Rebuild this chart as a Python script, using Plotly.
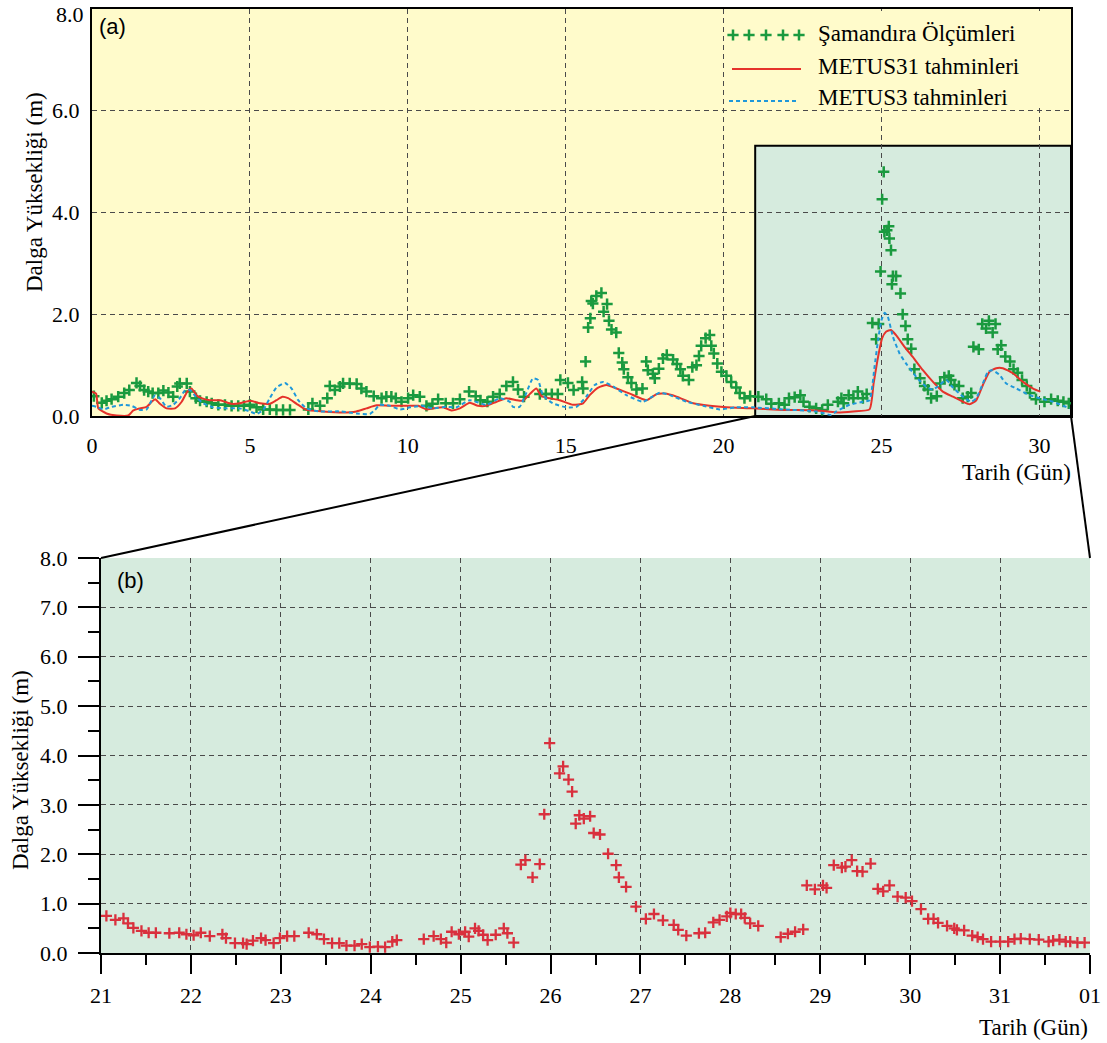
import plotly.graph_objects as go

W, H = 1107, 1043

# ---- Panel (a): buoy measurements and model forecasts, days 0-31 ----
obs_day = [0.06, 0.31, 0.46, 0.62, 0.83, 1.02, 1.18, 1.41, 1.52, 1.65, 1.78, 1.92, 2.10, 2.26, 2.42,
           2.57, 2.70, 2.78, 3.00, 3.10, 3.29, 3.42, 3.63, 3.79, 4.00, 4.21, 4.42, 4.63, 4.81, 5.00,
           5.21, 5.42, 5.63, 5.84, 6.05, 6.27, 6.85, 6.98, 7.22, 7.45, 7.53, 7.69, 7.85, 7.95, 8.16,
           8.38, 8.53, 8.69, 8.92, 9.17, 9.32, 9.48, 9.62, 9.80, 10.01, 10.17, 10.38, 10.59, 10.78,
           10.96, 11.20, 11.43, 11.65, 11.94, 12.15, 12.30, 12.52, 12.70, 12.91, 13.12, 13.33, 13.49,
           13.68, 14.18, 14.37, 14.56, 14.75, 14.83, 15.07, 15.25, 15.52, 15.55, 15.63, 15.71, 15.78,
           15.81, 15.86, 15.97, 16.13, 16.20, 16.31, 16.37, 16.45, 16.60, 16.68, 16.79, 16.84, 16.97,
           17.08, 17.24, 17.43, 17.55, 17.60, 17.76, 17.82, 17.95, 18.08, 18.20, 18.40, 18.52, 18.63,
           18.71, 18.90, 19.01, 19.14, 19.22, 19.29, 19.43, 19.56, 19.61, 19.69, 19.80, 19.93, 20.09,
           20.24, 20.40, 20.51, 20.66, 20.84, 21.10, 21.35, 21.51, 21.75, 21.93, 22.07, 22.25, 22.43,
           22.53, 22.72, 22.93, 23.12, 23.30, 23.62, 23.73, 23.80, 23.96, 24.11, 24.25, 24.41, 24.53,
           24.71, 24.83, 24.91, 24.97, 25.02, 25.07, 25.09, 25.17, 25.23, 25.25, 25.30, 25.33, 25.36,
           25.46, 25.60, 25.67, 25.76, 25.83, 25.94, 26.04, 26.22, 26.36, 26.47, 26.57, 26.75, 26.86,
           26.99, 27.13, 27.20, 27.31, 27.45, 27.57, 27.73, 27.84, 27.91, 28.08, 28.19, 28.31, 28.40,
           28.52, 28.61, 28.68, 28.79, 28.92, 29.07, 29.18, 29.31, 29.45, 29.60, 29.70, 29.89, 30.16,
           30.37, 30.58, 30.76, 30.93]
obs_hs = [0.39, 0.26, 0.30, 0.33, 0.38, 0.45, 0.51, 0.65, 0.59, 0.51, 0.48, 0.45, 0.45, 0.50, 0.46,
          0.38, 0.58, 0.64, 0.64, 0.48, 0.35, 0.30, 0.28, 0.25, 0.22, 0.22, 0.20, 0.20, 0.20, 0.22,
          0.17, 0.13, 0.13, 0.12, 0.12, 0.12, 0.13, 0.25, 0.20, 0.35, 0.59, 0.51, 0.58, 0.64, 0.64,
          0.63, 0.54, 0.48, 0.39, 0.35, 0.38, 0.38, 0.35, 0.28, 0.35, 0.41, 0.38, 0.20, 0.24,
          0.33, 0.25, 0.25, 0.33, 0.48, 0.39, 0.31, 0.28, 0.38, 0.43, 0.59, 0.67, 0.52,
          0.38, 0.43, 0.43, 0.43, 0.43, 0.71, 0.65, 0.51, 0.67, 0.54, 1.07, 1.74, 1.92,
          2.26, 2.21, 2.36, 2.42, 2.05, 2.20, 1.87, 1.70, 1.64, 1.24, 1.05, 0.92, 0.76,
          0.65, 0.52, 0.54, 1.07, 0.90, 0.83, 0.74, 0.93, 1.13, 1.20, 1.11, 1.02, 0.92,
          0.79, 0.71, 0.96, 1.00, 1.18, 1.38, 1.53, 1.59, 1.38, 1.23, 1.03, 0.87, 0.79,
          0.67, 0.56, 0.45, 0.35, 0.39, 0.38, 0.33, 0.24, 0.25, 0.22, 0.35, 0.37, 0.41,
          0.28, 0.18, 0.15, 0.12, 0.22, 0.28, 0.35, 0.25, 0.41, 0.35, 0.48, 0.35, 0.43,
          1.83, 1.51, 1.81, 2.84, 4.26, 4.80, 3.62, 3.65, 3.73, 3.49, 3.26, 2.59, 2.75,
          2.75, 2.41, 2.00, 1.77, 1.51, 1.32, 0.92, 0.74, 0.59, 0.52, 0.35, 0.39, 0.64,
          0.76, 0.79, 0.71, 0.61, 0.59, 0.35, 0.38, 0.45, 1.36, 1.31, 1.81, 1.72, 1.87,
          1.64, 1.81, 1.31, 1.39, 1.17, 1.07, 0.92, 0.85, 0.71, 0.59, 0.45, 0.33, 0.28,
          0.33, 0.30, 0.28, 0.25]

metus31_day = [0.00, 0.13, 0.20, 0.46, 0.78, 1.15, 1.31, 1.52, 1.73, 1.89, 2.00, 2.15, 2.36, 2.63,
               2.84, 3.02, 3.15, 3.31, 3.47, 3.73, 4.05, 4.21, 4.42, 4.68, 5.00, 5.32, 5.63, 5.84,
               6.03, 6.21, 6.48, 6.79, 7.32, 7.95, 8.37, 8.69, 9.01, 9.43, 9.96, 10.33, 10.59,
               10.80, 11.12, 11.38, 11.65, 11.96, 12.22, 12.49, 12.81, 13.12, 13.44, 13.65, 13.86,
               14.07, 14.23, 14.49, 14.81, 15.23, 15.55, 15.76, 16.03, 16.29, 16.61, 17.03, 17.56,
               17.88, 18.14, 18.51, 19.04, 19.56, 20.09, 20.94, 21.88, 22.94, 23.57, 24.10, 24.62,
               24.75, 24.89, 25.02, 25.15, 25.30, 25.46, 25.73, 25.99, 26.31, 26.63, 26.94, 27.26,
               27.58, 27.79, 28.00, 28.21, 28.42, 28.63, 28.84, 29.16, 29.48, 29.80, 30.03]
metus31_hs = [0.48, 0.44, 0.15, 0.05, 0.01, 0.01, 0.11, 0.15, 0.18, 0.28, 0.33, 0.24, 0.15, 0.15,
              0.28, 0.48, 0.54, 0.41, 0.35, 0.31, 0.31, 0.28, 0.24, 0.25, 0.30, 0.25, 0.24, 0.31,
              0.38, 0.35, 0.24, 0.12, 0.09, 0.07, 0.09, 0.15, 0.21, 0.20, 0.20, 0.20, 0.13,
              0.15, 0.17, 0.11, 0.15, 0.26, 0.20, 0.20, 0.28, 0.35, 0.31, 0.30, 0.43,
              0.54, 0.39, 0.35, 0.31, 0.22, 0.25, 0.41, 0.56, 0.61, 0.54, 0.44, 0.31,
              0.43, 0.44, 0.38, 0.25, 0.20, 0.17, 0.15, 0.12, 0.11, 0.07, 0.09, 0.13,
              0.64, 1.16, 1.53, 1.66, 1.69, 1.59, 1.36, 1.16, 0.90, 0.67, 0.48, 0.38,
              0.28, 0.23, 0.31, 0.61, 0.87, 0.94, 0.94, 0.84, 0.67, 0.54, 0.48]

metus3_day = [0.00, 0.15, 0.36, 0.62, 0.99, 1.25, 1.52, 1.73, 1.89, 2.00, 2.15, 2.36, 2.57, 2.78,
              2.94, 3.10, 3.29, 3.52, 3.84, 4.26, 4.68, 5.00, 5.21, 5.42, 5.63, 5.84, 6.11, 6.32,
              6.53, 6.79, 7.22, 7.85, 8.37, 8.80, 8.96, 9.11, 9.43, 9.75, 10.07, 10.45, 10.80,
              11.22, 11.54, 11.96, 12.49, 12.91, 13.23, 13.33, 13.54, 13.75, 13.96, 14.12, 14.28,
              14.59, 15.02, 15.34, 15.65, 15.92, 16.18, 16.50, 16.92, 17.45, 17.77, 17.98, 18.30,
              18.83, 19.35, 19.88, 20.40, 20.93, 21.88, 22.94, 23.41, 23.57, 23.99, 24.41, 24.62,
              24.78, 24.89, 25.00, 25.10, 25.20, 25.36, 25.57, 25.78, 26.10, 26.42, 26.63, 26.84,
              27.05, 27.26, 27.58, 27.84, 28.00, 28.21, 28.37, 28.52, 28.73, 28.95, 29.27, 29.69,
              30.00, 30.43, 30.96]
metus3_hs = [0.20, 0.18, 0.13, 0.18, 0.22, 0.20, 0.12, 0.13, 0.31, 0.41, 0.35, 0.18, 0.22, 0.35,
             0.50, 0.51, 0.38, 0.25, 0.17, 0.15, 0.15, 0.09, 0.04, 0.12, 0.35, 0.56, 0.65, 0.54,
             0.31, 0.15, 0.09, 0.09, 0.05, 0.04, 0.12, 0.22, 0.20, 0.13, 0.17, 0.20, 0.15,
             0.18, 0.17, 0.31, 0.22, 0.35, 0.28, 0.18, 0.18, 0.45, 0.74, 0.71, 0.41,
             0.25, 0.17, 0.18, 0.38, 0.61, 0.67, 0.58, 0.41, 0.28, 0.39, 0.46, 0.41,
             0.28, 0.20, 0.13, 0.17, 0.17, 0.13, 0.09, 0.02, 0.09, 0.22, 0.28, 0.31,
             0.97, 1.49, 1.89, 2.03, 1.95, 1.56, 1.23, 1.03, 0.77, 0.57, 0.52, 0.61,
             0.71, 0.56, 0.38, 0.28, 0.35, 0.64, 0.87, 0.90, 0.81, 0.64, 0.54, 0.41,
             0.35, 0.28, 0.15]

top_xticks = [0, 5, 10, 15, 20, 25, 30]
top_yticks = [0, 2, 4, 6, 8]
zoom_box = [21, 31, 0, 5.31]   # highlighted window: x0, x1, y0, y1

# ---- Panel (b): measurements 21st to 1st ----
b_day = [21.06, 21.16, 21.25, 21.30, 21.36, 21.45, 21.53, 21.61, 21.76, 21.87, 21.95, 22.03, 22.11,
         22.21, 22.35, 22.39, 22.49, 22.58, 22.62, 22.69, 22.78, 22.83, 22.92, 22.99, 23.07, 23.15,
         23.31, 23.40, 23.48, 23.57, 23.65, 23.73, 23.82, 23.90, 23.99, 24.08, 24.16, 24.24, 24.29,
         24.59, 24.70, 24.78, 24.84, 24.90, 24.98, 25.05, 25.09, 25.16, 25.20, 25.25, 25.30, 25.39,
         25.48, 25.52, 25.59, 25.67, 25.72, 25.80, 25.88, 25.93, 25.99, 26.10, 26.14, 26.20, 26.24,
         26.28, 26.32, 26.37, 26.44, 26.48, 26.55, 26.64, 26.73, 26.76, 26.84, 26.95, 27.06, 27.15,
         27.25, 27.37, 27.42, 27.51, 27.65, 27.72, 27.81, 27.88, 27.96, 28.00, 28.06, 28.12, 28.16,
         28.22, 28.31, 28.56, 28.64, 28.72, 28.81, 28.85, 28.94, 29.03, 29.07, 29.15, 29.24, 29.28,
         29.35, 29.41, 29.47, 29.56, 29.64, 29.70, 29.77, 29.86, 29.95, 30.02, 30.12, 30.20, 30.26,
         30.31, 30.41, 30.49, 30.52, 30.60, 30.69, 30.75, 30.81, 30.90, 31.00, 31.09, 31.16, 31.23,
         31.33, 31.43, 31.54, 31.59, 31.66, 31.73, 31.78, 31.86, 31.94]
b_hs = [0.75, 0.67, 0.70, 0.60, 0.51, 0.45, 0.41, 0.41, 0.40, 0.41, 0.38, 0.36, 0.41,
        0.34, 0.38, 0.30, 0.20, 0.20, 0.18, 0.25, 0.30, 0.26, 0.20, 0.30, 0.34, 0.34,
        0.41, 0.38, 0.28, 0.20, 0.20, 0.15, 0.15, 0.18, 0.12, 0.13, 0.12, 0.23, 0.26,
        0.28, 0.34, 0.28, 0.21, 0.43, 0.38, 0.43, 0.33, 0.50, 0.45, 0.37, 0.26, 0.37,
        0.50, 0.40, 0.21, 1.79, 1.88, 1.53, 1.80, 2.81, 4.25, 3.64, 3.78, 3.51, 3.27,
        2.62, 2.79, 2.72, 2.77, 2.43, 2.40, 2.01, 1.78, 1.53, 1.34, 0.94, 0.69, 0.79,
        0.66, 0.57, 0.47, 0.35, 0.40, 0.41, 0.62, 0.67, 0.74, 0.81, 0.79, 0.79, 0.71,
        0.60, 0.55, 0.32, 0.39, 0.43, 0.48, 1.37, 1.29, 1.37, 1.32, 1.78, 1.73, 1.75,
        1.88, 1.66, 1.65, 1.81, 1.30, 1.25, 1.37, 1.14, 1.12, 1.05, 0.89, 0.69, 0.69,
        0.61, 0.55, 0.50, 0.47, 0.46, 0.35, 0.32, 0.28, 0.23, 0.23, 0.23, 0.28, 0.29,
        0.28, 0.27, 0.23, 0.25, 0.27, 0.23, 0.23, 0.21, 0.21]

b_xticks = [21, 22, 23, 24, 25, 26, 27, 28, 29, 30, 31, 32]
b_xlabels = ["21", "22", "23", "24", "25", "26", "27", "28", "29", "30", "31", "01"]
b_yticks = [0, 1, 2, 3, 4, 5, 6, 7, 8]

# ---- styling ----
YELLOW = "#FFFBCB"
MINT = "#D6EBDE"
GREEN = "#1A9A3F"
RED = "#E5322B"
BLUE = "#1F98DA"
BRED = "#D9303D"
GRID = "#4a4a4a"
SERIF = "Liberation Serif"
SANS = "Liberation Sans"


def px_x(p):
    return p / W


def px_y(p):
    return 1 - p / H


top_xd = [px_x(92), px_x(1071)]
top_yd = [px_y(416), px_y(9)]
bot_xd = [px_x(101), px_x(1090)]
bot_yd = [px_y(953), px_y(558)]
leg_xd = [px_x(726), px_x(1069)]
leg_yd = [px_y(108), px_y(11)]

fig = go.Figure()

fig.add_trace(go.Scatter(
    x=obs_day, y=obs_hs, mode="markers", xaxis="x", yaxis="y",
    marker=dict(symbol="cross-thin", size=8, line=dict(color=GREEN, width=2.5)),
    showlegend=False))
fig.add_trace(go.Scatter(
    x=metus31_day, y=metus31_hs, mode="lines", xaxis="x", yaxis="y",
    line=dict(color=RED, width=2, shape="spline", smoothing=0.5), showlegend=False))
fig.add_trace(go.Scatter(
    x=metus3_day, y=metus3_hs, mode="lines", xaxis="x", yaxis="y",
    line=dict(color=BLUE, width=2, dash="4px,3px", shape="spline", smoothing=0.5),
    showlegend=False))

fig.add_trace(go.Scatter(
    x=b_day, y=b_hs, mode="markers", xaxis="x2", yaxis="y2",
    marker=dict(symbol="cross-thin", size=8, line=dict(color=BRED, width=2.3)),
    showlegend=False))

# legend key drawn on its own small subplot (pixel-based coordinates)
fig.add_trace(go.Scatter(
    x=[733, 749, 766, 783, 799], y=[35] * 5, mode="markers", xaxis="x3", yaxis="y3",
    marker=dict(symbol="cross-thin", size=8, line=dict(color=GREEN, width=2.5)),
    showlegend=False, hoverinfo="skip"))
fig.add_trace(go.Scatter(
    x=[732, 801], y=[69, 69], mode="lines", xaxis="x3", yaxis="y3",
    line=dict(color=RED, width=2), showlegend=False, hoverinfo="skip"))
fig.add_trace(go.Scatter(
    x=[729, 798], y=[101, 101], mode="lines", xaxis="x3", yaxis="y3",
    line=dict(color=BLUE, width=2, dash="4px,3px"), showlegend=False, hoverinfo="skip"))

legend_texts = ["Şamandıra Ölçümleri", "METUS31 tahminleri", "METUS3 tahminleri"]
legend_y = [33, 66, 97]

grid_common = dict(showgrid=True, gridcolor=GRID, gridwidth=1, griddash="5px,4px",
                   zeroline=False, automargin=False, ticklabeloverflow="allow")
tick_font = dict(family=SERIF, size=22, color="black")

fig.update_layout(
    width=W, height=H,
    margin=dict(l=0, r=0, t=0, b=0, autoexpand=False),
    paper_bgcolor="white",
    plot_bgcolor=YELLOW,
    font=dict(family=SERIF, size=22, color="black"),
    xaxis=dict(domain=top_xd, range=[0, 31], tickmode="array", tickvals=top_xticks,
               ticks="", ticklabelstandoff=9, showline=True, mirror=True, linecolor="black",
               linewidth=2, anchor="y", tickfont=tick_font, **grid_common),
    # the topmost label sits on the frame edge; it is placed as an annotation below
    yaxis=dict(domain=top_yd, range=[0, 8], tickmode="array", tickvals=top_yticks[:-1],
               tickformat=".1f", ticks="", ticklabelstandoff=6, showline=True, mirror=True,
               linecolor="black", linewidth=2, anchor="x", tickfont=tick_font, **grid_common),
    xaxis2=dict(domain=bot_xd, range=[21, 32], tickmode="array", tickvals=b_xticks,
                ticktext=b_xlabels, ticks="outside", ticklen=19, tickwidth=2, tickcolor="black",
                minor=dict(tickvals=[t + 0.5 for t in b_xticks[:-1]], ticks="outside",
                           ticklen=10, tickwidth=2, tickcolor="black", showgrid=False),
                ticklabelstandoff=3, showline=True, linecolor="black", linewidth=2,
                anchor="y2", tickfont=tick_font, **grid_common),
    yaxis2=dict(domain=bot_yd, range=[0, 8], tickmode="array", tickvals=b_yticks,
                tickformat=".1f", ticks="outside", ticklen=21, tickwidth=2, tickcolor="black",
                minor=dict(tickvals=[t + 0.5 for t in b_yticks[:-1]], ticks="outside",
                           ticklen=11, tickwidth=2, tickcolor="black", showgrid=False),
                ticklabelstandoff=6, showline=True, linecolor="black", linewidth=2,
                anchor="x2", tickfont=tick_font, **grid_common),
    xaxis3=dict(domain=leg_xd, range=[726, 1069], showgrid=False, zeroline=False,
                showticklabels=False, showline=False, ticks="", anchor="y3",
                fixedrange=True, automargin=False),
    yaxis3=dict(domain=leg_yd, range=[108, 11], showgrid=False, zeroline=False,
                showticklabels=False, showline=False, ticks="", anchor="x3",
                fixedrange=True, automargin=False),
)

shapes = [
    # panel (b) background
    dict(type="rect", xref="x2", yref="y2", x0=21, x1=32, y0=0, y1=8,
         fillcolor=MINT, line=dict(width=0), layer="below"),
    # highlighted window in panel (a)
    dict(type="rect", xref="x", yref="y", x0=zoom_box[0], x1=zoom_box[1],
         y0=zoom_box[2], y1=zoom_box[3], fillcolor=MINT,
         line=dict(color="black", width=2), layer="below"),
]


# connector lines from the window in (a) to the corners of (b)
def top_to_paper(xv, yv):
    fx = top_xd[0] + (xv - 0) / 31 * (top_xd[1] - top_xd[0])
    fy = top_yd[0] + (yv - 0) / 8 * (top_yd[1] - top_yd[0])
    return fx, fy


def bot_to_paper(xv, yv):
    fx = bot_xd[0] + (xv - 21) / 11 * (bot_xd[1] - bot_xd[0])
    fy = bot_yd[0] + (yv - 0) / 8 * (bot_yd[1] - bot_yd[0])
    return fx, fy


for (tx, bx) in [(zoom_box[0], 21), (zoom_box[1], 32)]:
    a = top_to_paper(tx, 0)
    b = bot_to_paper(bx, 8)
    shapes.append(dict(type="line", xref="paper", yref="paper", x0=a[0], y0=a[1],
                       x1=b[0], y1=b[1], line=dict(color="black", width=2), layer="above"))

fig.update_layout(shapes=shapes)

ann = [
    dict(text=f"{top_yticks[-1]:.1f}", x=px_x(86), y=px_y(15), xanchor="right",
         yanchor="middle", font=tick_font),
    dict(text="(a)", x=px_x(97), y=px_y(27), xanchor="left", yanchor="middle",
         font=dict(family=SANS, size=22)),
    dict(text="(b)", x=px_x(115), y=px_y(580), xanchor="left", yanchor="middle",
         font=dict(family=SANS, size=22)),
    dict(text="Dalga Yüksekliği (m)", x=px_x(34), y=px_y(192), textangle=-90,
         xanchor="center", yanchor="middle", font=dict(family=SERIF, size=23)),
    dict(text="Dalga Yüksekliği (m)", x=px_x(20), y=px_y(770), textangle=-90,
         xanchor="center", yanchor="middle", font=dict(family=SERIF, size=23)),
    dict(text="Tarih (Gün)", x=px_x(1073), y=px_y(473), xanchor="right", yanchor="middle",
         font=dict(family=SERIF, size=23)),
    dict(text="Tarih (Gün)", x=px_x(1090), y=px_y(1027), xanchor="right", yanchor="middle",
         font=dict(family=SERIF, size=23)),
]
for txt, yy in zip(legend_texts, legend_y):
    ann.append(dict(text=txt, xref="x3", yref="y3", x=816, y=yy, xanchor="left",
                    yanchor="middle", font=dict(family=SERIF, size=23)))
for a in ann:
    a.setdefault("xref", "paper")
    a.setdefault("yref", "paper")
    a["showarrow"] = False
fig.update_layout(annotations=ann)

fig.write_html("out.html")
